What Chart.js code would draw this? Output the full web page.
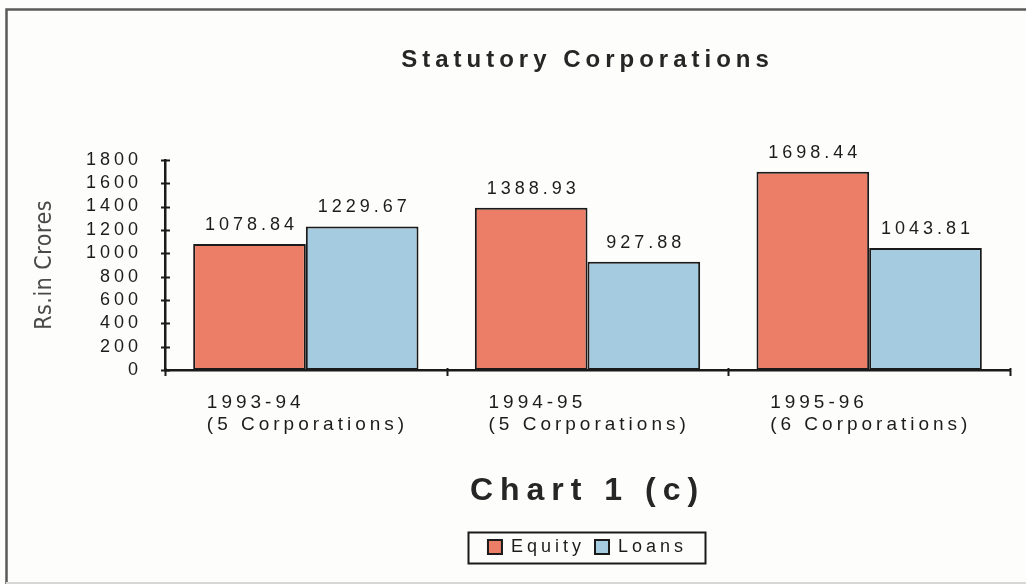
<!DOCTYPE html>
<html>
<head>
<meta charset="utf-8">
<script src="https://cdn.jsdelivr.net/npm/chart.js@4/dist/chart.umd.min.js"></script>
<style>
  html, body { margin: 0; padding: 0; background: #fdfdfb; }
  #wrap { width: 1026px; height: 584px; position: relative; }
  canvas { display: block; }
</style>
</head>
<body>
<div id="wrap"><canvas id="c" width="1026" height="584"></canvas></div>
<script>
// ---- data ----
const categories = [["1993-94", "(5 Corporations)"], ["1994-95", "(5 Corporations)"], ["1995-96", "(6 Corporations)"]];
const seriesNames = ["Equity", "Loans"];
const equity = [1078.84, 1388.93, 1698.44];
const loans = [1229.67, 927.88, 1043.81];
const yTicks = [0, 200, 400, 600, 800, 1000, 1200, 1400, 1600, 1800];
const mainTitle = "Statutory Corporations";
const footTitle = "Chart 1 (c)";
const yTitle = "Rs.in Crores";

const SANS = "'Liberation Sans', Arial, Helvetica, sans-serif";
const NARROW = "'Liberation Sans Narrow', 'DejaVu Sans Condensed', 'Arial Narrow', sans-serif";
const INK = "#1c1c1c";

// letter spacing handling (scanned chart has widely spaced type)
const spacingPlugin = {
  id: 'spacing',
  beforeUpdate(chart) { chart.ctx.letterSpacing = '4px'; },
  beforeDraw(chart) {
    const ctx = chart.ctx;
    ctx.letterSpacing = '4px';
    chart.boxes.forEach(b => {
      if (b._spPatched) return;
      if (b.options && typeof b.options.text === 'string') {
        const sp = b.options.text === mainTitle ? '5px' : '7px';
        const orig = b.draw;
        b.draw = function (area) {
          const p = ctx.letterSpacing; ctx.letterSpacing = sp;
          orig.call(this, area);
          ctx.letterSpacing = p;
        };
        b._spPatched = true;
      }
    });
    const ys = chart.scales.y;
    if (ys && !ys._spPatched) {
      const o = ys.drawTitle;
      ys.drawTitle = function () {
        const p = ctx.letterSpacing; ctx.letterSpacing = '0.5px';
        o.call(this);
        ctx.letterSpacing = p;
      };
      ys._spPatched = true;
    }
  }
};

// page frame
const framePlugin = {
  id: 'frame',
  beforeDraw(chart) {
    const ctx = chart.ctx;
    ctx.save();
    ctx.strokeStyle = '#5a5a5a';
    ctx.lineWidth = 2.5;
    ctx.beginPath();
    ctx.moveTo(6.5, 584);
    ctx.lineTo(6.5, 9.5);
    ctx.lineTo(1026, 9.5);
    ctx.stroke();
    ctx.strokeStyle = '#d8d8d4';
    ctx.lineWidth = 2;
    ctx.beginPath();
    ctx.moveTo(6, 583);
    ctx.lineTo(1026, 583);
    ctx.stroke();
    ctx.restore();
  }
};

// cross tick marks on both axes
const tickMarks = {
  id: 'tickMarks',
  afterDraw(chart) {
    const ctx = chart.ctx;
    const xs = chart.scales.x, ys = chart.scales.y;
    const a = chart.chartArea;
    ctx.save();
    ctx.strokeStyle = '#1a1a1a';
    ctx.lineWidth = 2;
    ctx.beginPath();
    yTicks.forEach(v => {
      const y = Math.round(ys.getPixelForValue(v)) + 0.5;
      ctx.moveTo(a.left - 4, y);
      ctx.lineTo(a.left + 5, y);
    });
    for (let i = 0; i <= categories.length; i++) {
      const x = Math.round(xs.getPixelForValue(i - 0.5)) + 0.5;
      ctx.moveTo(x, a.bottom - 2);
      ctx.lineTo(x, a.bottom + 6);
    }
    ctx.stroke();
    ctx.restore();
  }
};

// value labels above bars
const valueLabels = {
  id: 'valueLabels',
  afterDatasetsDraw(chart) {
    const ctx = chart.ctx;
    ctx.save();
    ctx.letterSpacing = '4px';
    ctx.font = "18px " + SANS;
    ctx.fillStyle = INK;
    ctx.textAlign = 'center';
    ctx.textBaseline = 'alphabetic';
    chart.data.datasets.forEach((ds, di) => {
      const meta = chart.getDatasetMeta(di);
      meta.data.forEach((bar, i) => {
        ctx.fillText(ds.data[i].toFixed(2), bar.x + 2, bar.y - 14);
      });
    });
    ctx.restore();
  }
};

// box around legend
const legendBox = {
  id: 'legendBox',
  afterDraw(chart) {
    const lg = chart.legend;
    if (!lg || !lg.legendHitBoxes || !lg.legendHitBoxes.length) return;
    const hb = lg.legendHitBoxes;
    let l = Infinity, r = -Infinity, t = Infinity, b = -Infinity;
    hb.forEach(h => {
      l = Math.min(l, h.left); r = Math.max(r, h.left + h.width);
      t = Math.min(t, h.top); b = Math.max(b, h.top + h.height);
    });
    const cy = (t + b) / 2;
    const ctx = chart.ctx;
    ctx.save();
    ctx.strokeStyle = '#1a1a1a';
    ctx.lineWidth = 2;
    ctx.strokeRect(Math.round(l - 20) + 0.5, Math.round(cy - 15.5) + 0.5, Math.round(r - l + 38), 31);
    ctx.restore();
  }
};

const chart = new Chart(document.getElementById('c'), {
  type: 'bar',
  data: {
    labels: categories,
    datasets: [
      { label: seriesNames[0], data: equity, backgroundColor: '#ec7d66', borderColor: '#1a1a1a', borderWidth: 2, borderSkipped: false },
      { label: seriesNames[1], data: loans, backgroundColor: '#a5cbe0', borderColor: '#1a1a1a', borderWidth: 2, borderSkipped: false }
    ]
  },
  options: {
    responsive: false,
    animation: false,
    devicePixelRatio: 1,
    layout: { padding: { left: 8, right: 16, top: 0, bottom: 18 } },
    datasets: { bar: { categoryPercentage: 0.8, barPercentage: 1.0 } },
    scales: {
      x: {
        grid: { display: false, drawTicks: false },
        border: { display: true, color: '#1a1a1a', width: 2.5 },
        ticks: {
          color: INK,
          font: { family: SANS, size: 19, lineHeight: 1.16 },
          align: 'start',
          labelOffset: -99,
          padding: 22,
          maxRotation: 0,
          autoSkip: false
        },
        afterFit(s) { s.height = 66; s.paddingLeft = 0; s.paddingRight = 0; }
      },
      y: {
        min: 0, max: 1800,
        grid: { display: false, drawTicks: false },
        border: { display: true, color: '#1a1a1a', width: 2.5 },
        ticks: {
          stepSize: 200,
          autoSkip: false,
          color: INK,
          font: { family: SANS, size: 18 },
          padding: 23,
          callback: (v) => String(v)
        },
        title: {
          display: true,
          text: yTitle,
          color: '#4a4a4a',
          font: { family: NARROW, size: 23, lineHeight: 1.2 },
          padding: { top: 23, bottom: 0 }
        },
        afterFit(s) { s.width = 157; }
      }
    },
    plugins: {
      title: {
        display: true,
        text: mainTitle,
        fullSize: false,
        color: '#262626',
        font: { family: SANS, size: 24, weight: 'bold', lineHeight: 1.2 },
        padding: { top: 46, bottom: 85 }
      },
      subtitle: {
        display: true,
        text: footTitle,
        position: 'bottom',
        fullSize: false,
        weight: 500,
        color: '#262626',
        font: { family: SANS, size: 32, weight: 'bold', lineHeight: 1.2 },
        padding: { top: 36, bottom: 17.6 }
      },
      legend: {
        display: true,
        position: 'bottom',
        fullSize: false,
        labels: {
          color: INK,
          font: { family: SANS, size: 18 },
          boxWidth: 14,
          boxHeight: 14,
          padding: 10
        }
      },
      tooltip: { enabled: false }
    }
  },
  plugins: [spacingPlugin, framePlugin, tickMarks, valueLabels, legendBox]
});
</script>
</body>
</html>
